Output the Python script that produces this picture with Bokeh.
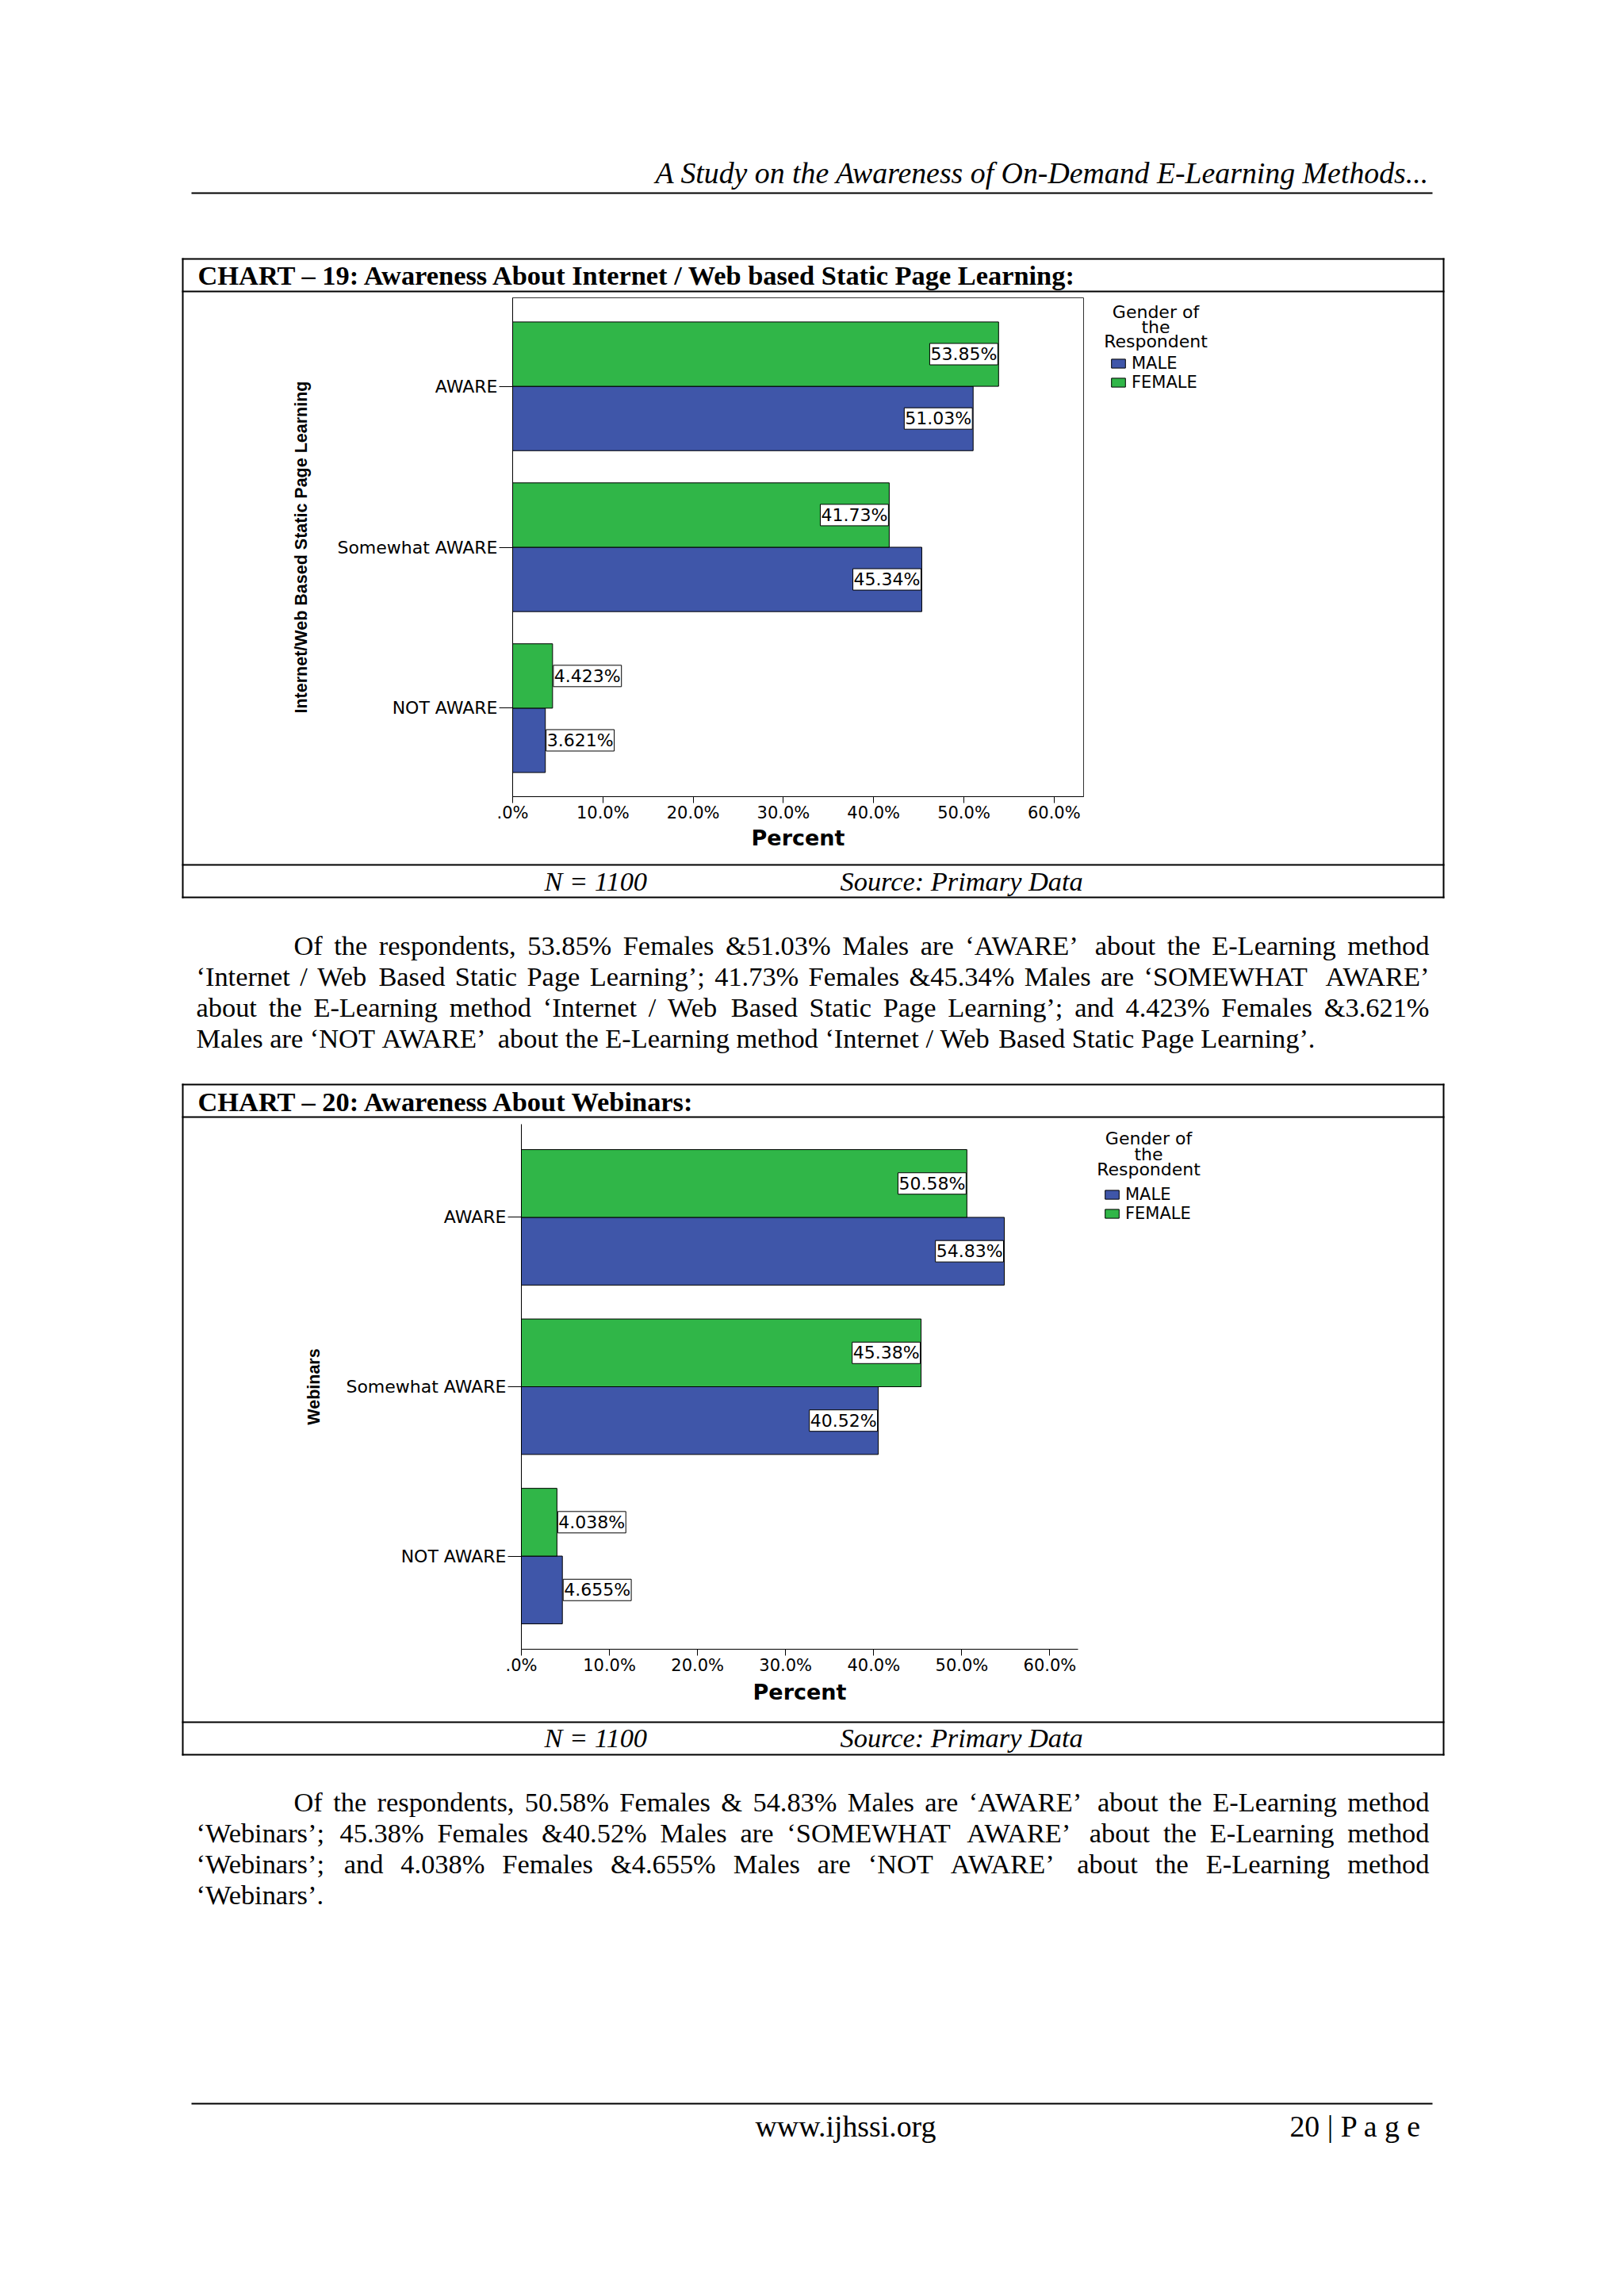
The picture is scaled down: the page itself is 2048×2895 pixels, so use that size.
from bokeh.plotting import figure
from bokeh.models import (Range1d, FixedTicker, Legend, LegendItem, ColumnDataSource)
from bokeh.transform import dodge
from bokeh.core.properties import value
from bokeh.embed import file_html
from bokeh.resources import INLINE

# ---------------- data ----------------
categories = ["AWARE", "Somewhat AWARE", "NOT AWARE"]
web_female = [53.85, 41.73, 4.423]
web_male = [51.03, 45.34, 3.621]
webinar_female = [50.58, 45.38, 4.038]
webinar_male = [54.83, 40.52, 4.655]
x_ticks = [0, 10, 20, 30, 40, 50, 60]
x_tick_labels = [".0%", "10.0%", "20.0%", "30.0%", "40.0%", "50.0%", "60.0%"]
genders = ["MALE", "FEMALE"]
gender_colors = ["#3F56A9", "#30B648"]

header_text = "A Study on the Awareness of On-Demand E-Learning Methods..."
title19 = "CHART \u2013 19: Awareness About Internet / Web based Static Page Learning:"
title20 = "CHART \u2013 20: Awareness About Webinars:"
ytitle19 = "Internet/Web Based Static Page Learning"
ytitle20 = "Webinars"
legend_title = ["Gender of", "the", "Respondent"]
para1 = [
    "Of the respondents, 53.85% Females &51.03% Males are \u2018AWARE\u2019 about the E-Learning method",
    "\u2018Internet / Web Based Static Page Learning\u2019; 41.73% Females &45.34% Males are \u2018SOMEWHAT AWARE\u2019",
    "about the E-Learning method \u2018Internet / Web Based Static Page Learning\u2019; and 4.423% Females &3.621%",
    "Males are \u2018NOT AWARE\u2019 about the E-Learning method \u2018Internet / Web Based Static Page Learning\u2019.",
]
para2 = [
    "Of the respondents, 50.58% Females & 54.83% Males are \u2018AWARE\u2019 about the E-Learning method",
    "\u2018Webinars\u2019; 45.38% Females &40.52% Males are \u2018SOMEWHAT AWARE\u2019 about the E-Learning method",
    "\u2018Webinars\u2019; and 4.038% Females &4.655% Males are \u2018NOT AWARE\u2019 about the E-Learning method",
    "\u2018Webinars\u2019.",
]

# ---------------- font metrics (Times) for justification ----------------
_TW = {' ': 250, '%': 833, '&': 778, ',': 250, '-': 333, '.': 250, '/': 278,
       ':': 278, ';': 278, '\u2018': 333, '\u2019': 333}
for _c in "0123456789":
    _TW[_c] = 500
for _c, _w in zip("ABCDEFGHIJKLMNOPQRSTUVWXYZ",
                  [722, 667, 667, 722, 611, 556, 722, 722, 333, 389, 722, 611, 889,
                   722, 722, 556, 722, 667, 556, 611, 722, 722, 944, 722, 722, 611]):
    _TW[_c] = _w
for _c, _w in zip("abcdefghijklmnopqrstuvwxyz",
                  [444, 500, 444, 500, 444, 333, 500, 500, 278, 278, 500, 278, 778,
                   500, 500, 500, 500, 333, 389, 278, 500, 500, 722, 500, 500, 444]):
    _TW[_c] = _w


def tw(s, size):
    return sum(_TW.get(c, 500) for c in s) / 1000.0 * size


SERIF = "Liberation Serif"
SANS = "DejaVu Sans"
W = 2044


def ptext(p, xs, bases, texts, font, size, style="normal", align="left", k=0.34):
    # positions given as text baselines; drawn with a middle anchor
    ys = [b - k * size for b in bases]
    p.text(x=xs, y=ys, text=texts, x_range_name="px", y_range_name="px",
           level="overlay", text_font=value(font), text_font_size=value(f"{size}px"),
           text_font_style=style, text_align=align, text_baseline="middle",
           text_color="black")


def plines(p, x0, y0, x1, y1, width=2):
    p.segment(x0=x0, y0=y0, x1=x1, y1=y1, x_range_name="px", y_range_name="px",
              level="overlay", line_color="black", line_width=width, line_cap="square")


def paragraph(p, lines, y0, dy, size=34.4, x_left=247, x_indent=370, x_right=1802):
    lx, ly, lt, rx, ry, rt = [], [], [], [], [], []
    for i, line in enumerate(lines):
        words = line.split(" ")
        start = x_indent if i == 0 else x_left
        y = y0 + i * dy
        widths = [tw(w, size) for w in words]
        last = i == len(lines) - 1
        if not last and len(words) > 1:
            gap = (x_right - start - sum(widths)) / (len(words) - 1)
        else:
            gap = tw(" ", size)
        x = start
        for j, (w, wd) in enumerate(zip(words, widths)):
            if not last and j == len(words) - 1:
                rx.append(x_right); ry.append(y); rt.append(w)
            else:
                lx.append(x); ly.append(y); lt.append(w)
            x += wd + gap
    ptext(p, lx, ly, lt, SERIF, size)
    if rt:
        ptext(p, rx, ry, rt, SERIF, size, align="right")


def chart_box(p, x0, x1, y0, y_title, y_foot, y1, title, title_base, foot_base):
    plines(p, [x0, x0, x0, x1, x0, x0], [y0, y1, y0, y0, y_title, y_foot],
           [x1, x1, x0, x1, x1, x1], [y0, y1, y1, y1, y_title, y_foot])
    ptext(p, [249], [title_base], [title], SERIF, 34.4, style="bold")
    ptext(p, [686, 1059], [foot_base, foot_base], ["N = 1100", "Source: Primary Data"],
          SERIF, 34.4, style="italic")


def make_chart(fig_top, fig_h, frame, female, male, x_end, ytitle, outline,
               ylab_standoff, xlab_standoff, legend_dx, legend_top, legend_cx,
               legend_base, legend_dy):
    fl, fr, ft, fb = frame
    n = len(categories)
    # category slots: first category at the top
    cat_pos = [n - i - 0.5 for i in range(n)]
    p = figure(width=W, height=fig_h, output_backend="svg", toolbar_location=None,
               x_range=Range1d(0, x_end), y_range=Range1d(-0.05, n + 0.05),
               min_border_left=fl, min_border_right=W - fr,
               min_border_top=ft - fig_top, min_border_bottom=fig_top + fig_h - fb,
               background_fill_color="white", border_fill_color="white")
    p.extra_x_ranges = {"px": Range1d(fl, fr)}
    p.extra_y_ranges = {"px": Range1d(fb, ft)}
    p.xgrid.visible = False
    p.ygrid.visible = False
    if outline:
        p.outline_line_color = "#333333"
        p.outline_line_width = 1
        p.outline_line_alpha = 1
    else:
        p.outline_line_color = None

    src = ColumnDataSource(dict(pos=cat_pos, cat=categories, female=female, male=male))
    male_r = p.hbar(y=dodge("pos", -0.2), left=0, right="male",
                    height=0.4, source=src, fill_color=gender_colors[0],
                    line_color="black", line_width=1)
    female_r = p.hbar(y=dodge("pos", 0.2), left=0, right="female",
                      height=0.4, source=src, fill_color=gender_colors[1],
                      line_color="black", line_width=1)

    for vals, off in ((female, 0.2), (male, -0.2)):
        for align in ("right", "left"):
            sel = [(c, v) for c, v in zip(cat_pos, vals) if (v >= 10) == (align == "right")]
            if not sel:
                continue
            lsrc = ColumnDataSource(dict(pos=[c for c, _ in sel], val=[v for _, v in sel],
                                         txt=[f"{v:.4g}%" for _, v in sel]))
            p.text(x="val", y=dodge("pos", off), text="txt", source=lsrc,
                   text_align=align, text_baseline="middle", text_font=value(SANS),
                   text_font_size=value("22px"), text_color="black",
                   x_offset=(-1 if align == "right" else 1),
                   background_fill_color="white", border_line_color="black",
                   border_line_width=1, padding=1)

    xa = p.xaxis[0]
    xa.ticker = FixedTicker(ticks=x_ticks)
    xa.major_label_overrides = dict(zip(x_ticks, x_tick_labels))
    xa.minor_tick_line_color = None
    xa.major_tick_out = 8
    xa.major_tick_in = 0
    xa.major_label_standoff = 0
    xa.major_label_text_font = SANS
    xa.major_label_text_font_size = "21px"
    xa.major_label_text_color = "black"
    xa.axis_line_color = "black"
    xa.major_tick_line_color = "black"
    xa.axis_label = "Percent"
    xa.axis_label_text_font = SANS
    xa.axis_label_text_font_style = "bold"
    xa.axis_label_text_font_size = "27px"
    xa.axis_label_text_color = "black"
    xa.axis_label_standoff = xlab_standoff

    ya = p.yaxis[0]
    ya.ticker = FixedTicker(ticks=cat_pos)
    ya.major_label_overrides = dict(zip(cat_pos, categories))
    ya.minor_tick_line_color = None
    ya.major_tick_out = 17
    ya.major_tick_in = 0
    ya.major_label_standoff = 2
    ya.major_label_text_font = SANS
    ya.major_label_text_font_size = "22px"
    ya.major_label_text_color = "black"
    ya.axis_line_color = "black"
    ya.major_tick_line_color = "black"
    ya.axis_label = ytitle
    ya.axis_label_text_font = "Liberation Sans"
    ya.axis_label_text_font_style = "bold"
    ya.axis_label_text_font_size = "21.5px"
    ya.axis_label_text_color = "black"
    ya.axis_label_standoff = ylab_standoff

    leg_h = 43
    legend = Legend(items=[LegendItem(label=genders[0], renderers=[male_r]),
                           LegendItem(label=genders[1], renderers=[female_r])],
                    location=(legend_dx, fb - legend_top - leg_h), orientation="vertical",
                    padding=0, margin=legend_dx, spacing=-6, border_line_color=None,
                    background_fill_alpha=0, glyph_width=22, glyph_height=14,
                    label_height=14, label_standoff=6,
                    label_text_font=SANS, label_text_font_size="21px",
                    label_text_color="black")
    p.add_layout(legend, "right")
    ptext(p, [legend_cx] * 3, [legend_base + k * legend_dy for k in range(3)],
          legend_title, SANS, 22, align="center", k=0.35)
    return p


# ---------------- figure 1: header, chart 19, paragraph 1 ----------------
f1_top, f1_h = 0, 1340
p1 = make_chart(f1_top, f1_h, (646, 1366, 375, 1004), web_female, web_male, 63.27,
                ytitle19, True, 30, 1, 33, 451, 1457, 401, 18.5)
ptext(p1, [1802], [230], [header_text], SERIF, 37.8, style="italic", align="right")
plines(p1, [242], [243], [1805], [243], width=2)
chart_box(p1, 230, 1820, 326, 367, 1090, 1131, title19, 358, 1122)
paragraph(p1, para1, 1203, 39)

# ---------------- figure 2: chart 20, paragraph 2, footer ----------------
f2_top, f2_h = 1340, 1540
p2 = make_chart(f2_top, f2_h, (657, 1359, 1417, 2079), webinar_female, webinar_male, 63.2,
                ytitle20, False, 25, 3, 32, 1499, 1448, 1443, 19.5)
chart_box(p2, 230, 1820, 1367, 1408, 2171, 2212, title20, 1400, 2202)
paragraph(p2, para2, 2283, 39)
plines(p2, [242], [2652], [1805], [2652], width=2)
ptext(p2, [1066], [2693], ["www.ijhssi.org"], SERIF, 37.8, align="center")
ptext(p2, [1792], [2693], ["20 | P a g e"], SERIF, 37.8, align="right")

open("out.html", "w").write(file_html([p1, p2], INLINE))
